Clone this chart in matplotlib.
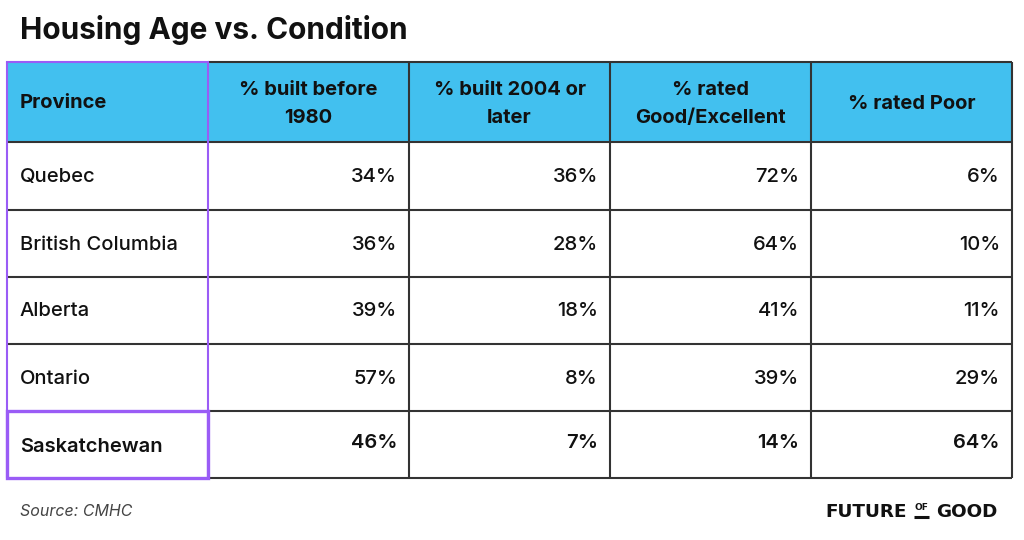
import matplotlib
matplotlib.use("Agg")
import matplotlib.pyplot as plt
from matplotlib.patches import Rectangle

title = "Housing Age vs. Condition"
headers = ["Province", "% built before\n1980", "% built 2004 or\nlater", "% rated\nGood/Excellent", "% rated Poor"]
provinces = ["Quebec", "British Columbia", "Alberta", "Ontario", "Saskatchewan"]
built_before_1980 = [34, 36, 39, 57, 46]
built_2004_later = [36, 28, 18, 8, 7]
rated_good_excellent = [72, 64, 41, 39, 14]
rated_poor = [6, 10, 11, 29, 64]
source = "Source: CMHC"

plt.rcParams['font.family'] = ['Inter', 'DejaVu Sans']

W, H = 1024, 540
fig = plt.figure(figsize=(W / 100, H / 100), dpi=100)
ax = fig.add_axes([0, 0, 1, 1])
ax.set_xlim(0, W)
ax.set_ylim(H, 0)
ax.axis('off')

header_color = "#42C0EF"
purple = "#9A5CF6"
dark = "#333333"

col_x = [7, 208, 409, 610, 811, 1012]
row_y = [62, 142, 210, 277, 344, 411, 478]

# header fill
ax.add_patch(Rectangle((col_x[0], row_y[0]), col_x[-1] - col_x[0], row_y[1] - row_y[0],
                       facecolor=header_color, edgecolor='none', zorder=1))

lw = 1.5
for y in row_y:
    ax.plot([col_x[1], col_x[-1]], [y, y], color=dark, lw=lw, zorder=2, solid_capstyle='butt')
for y in row_y[1:-2]:
    ax.plot([col_x[0], col_x[1]], [y, y], color=dark, lw=lw, zorder=2, solid_capstyle='butt')
ax.plot([col_x[0], col_x[1]], [row_y[0], row_y[0]], color=purple, lw=lw, zorder=3)
for x in col_x[2:]:
    ax.plot([x, x], [row_y[0], row_y[-1]], color=dark, lw=lw, zorder=2, solid_capstyle='butt')
for x in col_x[:2]:
    ax.plot([x, x], [row_y[0], row_y[-1]], color=purple, lw=lw, zorder=3, solid_capstyle='butt')
ax.add_patch(Rectangle((col_x[0], row_y[-2]), col_x[1] - col_x[0], row_y[-1] - row_y[-2],
                       facecolor='none', edgecolor=purple, lw=2.4, zorder=4))

fs = 14.5
# headers
ax.text(20, (row_y[0] + row_y[1]) / 2 + 1, headers[0], ha='left', va='center',
        fontsize=fs, fontweight='bold', color='#111111', zorder=5)
for j in range(1, 5):
    ax.text((col_x[j] + col_x[j + 1]) / 2, (row_y[0] + row_y[1]) / 2 + 2, headers[j],
            ha='center', va='center', fontsize=fs, fontweight='bold', color='#111111',
            linespacing=1.65, zorder=5)

cols = [built_before_1980, built_2004_later, rated_good_excellent, rated_poor]
n = len(provinces)
for i, prov in enumerate(provinces):
    yc = (row_y[i + 1] + row_y[i + 2]) / 2 + 1
    last = (i == n - 1)
    w = 'semibold' if last else 'medium'
    ax.text(20, yc + (2 if last else 0), prov, ha='left', va='center', fontsize=fs,
            fontweight=w, color='#111111', zorder=5)
    for j, vals in enumerate(cols):
        ax.text(col_x[j + 2] - 12, yc - (2 if last else 0), f"{vals[i]}%",
                ha='right', va='center', fontsize=fs, fontweight=w,
                color='#111111', zorder=5)

# title
ax.text(20, 30, title, ha='left', va='center', fontsize=21.5, fontweight='bold', color='#111111')
# source
ax.text(20, 512, source, ha='left', va='center', fontsize=11.5, style='italic', color='#444444')

# logo
logo_fam = ['DejaVu Sans']
ax.text(825, 512, "FUTURE", ha='left', va='center', fontsize=13.2, fontweight='bold',
        color='#111111', family=logo_fam)
ax.text(921, 508, "OF", ha='center', va='center', fontsize=6.5, fontweight='bold',
        color='#111111', family=logo_fam)
ax.plot([914, 929], [516.5, 516.5], color='#111111', lw=2.2, solid_capstyle='butt')
ax.text(936, 512, "GOOD", ha='left', va='center', fontsize=13.2, fontweight='bold',
        color='#111111', family=logo_fam)

fig.savefig("out.png", dpi=100)
